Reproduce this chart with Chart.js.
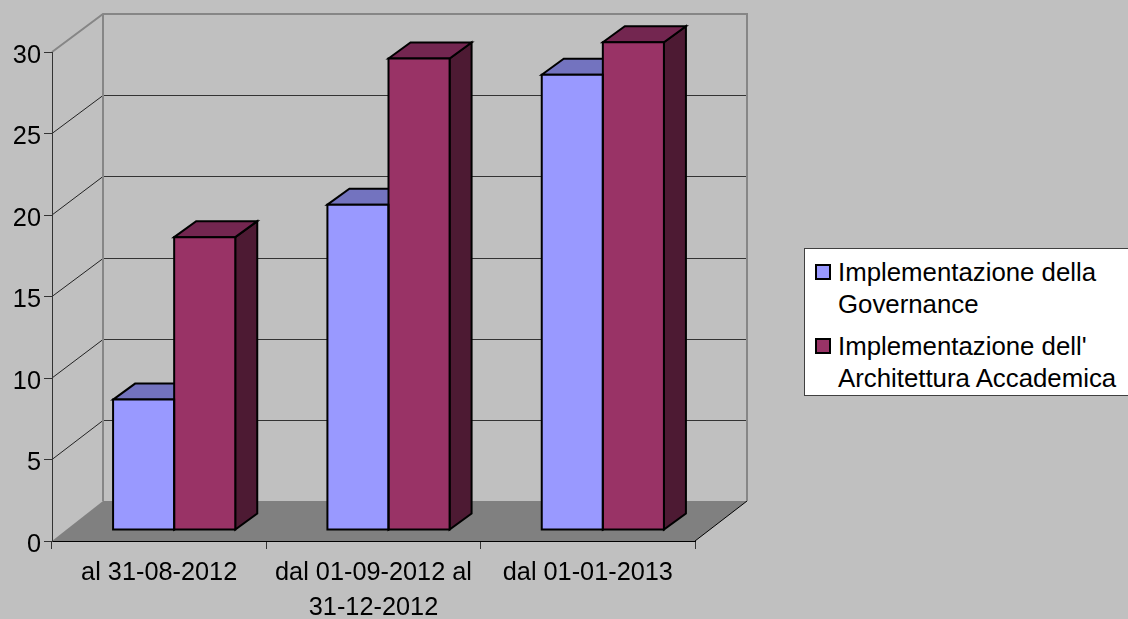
<!DOCTYPE html>
<html>
<head>
<meta charset="utf-8">
<title>Implementazione</title>
<script src="https://cdn.jsdelivr.net/npm/chart.js@4/dist/chart.umd.min.js"></script>
<style>
  html, body { margin: 0; padding: 0; background: #c0c0c0; overflow: hidden; }
  #wrap { position: relative; width: 1128px; height: 619px; }
  #grafico { display: block; }
  #leyenda {
    position: absolute; left: 804px; top: 248px; width: 330px; height: 146px;
    background: #fff; border: 1px solid #404040;
    font: 25.8px "Liberation Sans", Arial, sans-serif; color: #000;
  }
  .fila { position: absolute; left: 33px; line-height: 32px; white-space: nowrap; }
  .marca { position: absolute; left: 10px; width: 12px; height: 12px; border: 2px solid #000; }
</style>
</head>
<body>
<div id="wrap">
  <canvas id="grafico" width="1128" height="619"></canvas>
  <div id="leyenda"></div>
</div>
<script>
"use strict";

var categorias = ["al 31-08-2012", ["dal 01-09-2012 al", "31-12-2012"], "dal 01-01-2013"];
var governance = [8, 20, 28];
var architettura = [18, 29, 30];
var nomiSerie = [
  ["Implementazione della", "Governance"],
  ["Implementazione dell'", "Architettura Accademica"]
];
var coloriFronte = ["#9999ff", "#993366"];
var coloriTop = ["#7373bf", "#732650"];
var coloriLato = ["#4d4d80", "#4d1a33"];

// geometria della scatola 3d
var FONDO_DX = 51, FONDO_Y0 = 501, FONDO_ALTO = 487;
var BARRA_DX = 15, BARRA_PROF_X = 22, BARRA_PROF_Y = 16;

function tracciato(ctx, punti) {
  ctx.beginPath();
  punti.forEach(function (p, i) {
    if (i === 0) { ctx.moveTo(p[0], p[1]); } else { ctx.lineTo(p[0], p[1]); }
  });
}

function linea(ctx, punti, colore, spessore) {
  tracciato(ctx, punti);
  ctx.strokeStyle = colore;
  ctx.lineWidth = spessore;
  ctx.stroke();
}

function faccia(ctx, punti, colore) {
  tracciato(ctx, punti);
  ctx.closePath();
  if (colore) {
    ctx.fillStyle = colore;
    ctx.fill();
  }
  ctx.strokeStyle = "#000";
  ctx.lineWidth = 2;
  ctx.stroke();
}

var scatola3d = {
  id: "scatola3d",
  beforeDraw: function (chart) {
    var ctx = chart.ctx, a = chart.chartArea, y = chart.scales.y;
    var xb = a.left + FONDO_DX, xr = a.right + FONDO_DX + 1;
    var altezza = y.getPixelForValue(0) - y.getPixelForValue(30);
    function muro(v) {
      return FONDO_Y0 - (y.getPixelForValue(0) - y.getPixelForValue(v)) * FONDO_ALTO / altezza;
    }
    ctx.save();
    // pavimento
    tracciato(ctx, [[a.left, a.bottom], [xb, FONDO_Y0], [xr, FONDO_Y0], [a.right, a.bottom]]);
    ctx.closePath();
    ctx.fillStyle = "#808080";
    ctx.fill();
    linea(ctx, [[xr, FONDO_Y0], [a.right, a.bottom]], "#000", 1);
    // griglia
    [5, 10, 15, 20, 25].forEach(function (v) {
      var py = y.getPixelForValue(v), my = Math.round(muro(v)) + 0.5;
      linea(ctx, [[a.left, py], [xb, my]], "#222", 1);
      linea(ctx, [[xb, my], [xr, my]], "#333", 1);
    });
    // pareti
    var alto = Math.round(muro(30));
    linea(ctx, [[a.left, y.getPixelForValue(30)], [xb, alto], [xr, alto], [xr, FONDO_Y0]], "#868686", 2);
    linea(ctx, [[xb, alto], [xb, FONDO_Y0]], "#868686", 2);
    ctx.restore();
  },
  beforeDatasetsDraw: function (chart) {
    var ctx = chart.ctx;
    ctx.save();
    ctx.translate(BARRA_DX, 0);
    chart.data.datasets.forEach(function (ds, i) {
      chart.getDatasetMeta(i).data.forEach(function (el) {
        var l = el.x - el.width / 2, r = el.x + el.width / 2;
        var t = el.y, b = el.base;
        var dx = BARRA_PROF_X, dy = BARRA_PROF_Y;
        faccia(ctx, [[r, t], [r + dx, t - dy], [r + dx, b - dy], [r, b]], coloriLato[i]);
        faccia(ctx, [[l, t], [l + dx, t - dy], [r + dx, t - dy], [r, t]], coloriTop[i]);
      });
    });
  },
  afterDatasetsDraw: function (chart) {
    var ctx = chart.ctx;
    // contorno del fronte, centrato sul bordo della barra
    chart.data.datasets.forEach(function (ds, i) {
      chart.getDatasetMeta(i).data.forEach(function (el) {
        var l = el.x - el.width / 2, r = el.x + el.width / 2;
        faccia(ctx, [[l, el.y], [r, el.y], [r, el.base], [l, el.base]], null);
      });
    });
    ctx.restore();
  }
};

var carattere = { family: "'Liberation Sans', Arial, sans-serif", size: 25.3 };
var stileBarra = {
  yAxisID: "barre",
  categoryPercentage: 0.57,
  barPercentage: 1,
  borderWidth: 0,
  clip: false
};

new Chart(document.getElementById("grafico"), {
  type: "bar",
  data: {
    labels: categorias,
    datasets: [
      Object.assign({ label: nomiSerie[0].join(" "), data: governance, backgroundColor: coloriFronte[0] }, stileBarra),
      Object.assign({ label: nomiSerie[1].join(" "), data: architettura, backgroundColor: coloriFronte[1] }, stileBarra)
    ]
  },
  plugins: [scatola3d],
  options: {
    responsive: false,
    animation: false,
    layout: { padding: { top: 52, right: 433, left: 0, bottom: 0 } },
    plugins: { legend: { display: false }, tooltip: { enabled: false } },
    scales: {
      x: {
        grid: { drawOnChartArea: false, color: "#333", tickLength: 8 },
        border: { color: "#000", width: 1 },
        ticks: {
          color: "#000",
          font: { family: carattere.family, size: carattere.size, lineHeight: 1.38 },
          padding: 7,
          maxRotation: 0,
          autoSkip: false
        },
        afterFit: function (s) { s.height = 78; }
      },
      y: {
        min: 0,
        max: 30,
        grid: { drawOnChartArea: false, color: "#333", tickLength: 8 },
        border: { color: "#333", width: 1 },
        ticks: {
          color: "#000",
          // riga vuota: abbassa il numero di qualche pixel rispetto alla tacca
          font: { family: carattere.family, size: carattere.size, lineHeight: "8px" },
          stepSize: 5,
          padding: 3,
          callback: function (v) { return ["", String(v)]; }
        },
        afterFit: function (s) { s.width = 52; }
      },
      // scala delle barre: lo zero sta sul pavimento, sopra l'asse
      barre: { axis: "y", display: false, min: -0.708, max: 29.40 }
    }
  }
});

var leyenda = document.getElementById("leyenda");
var topFila = [15, 47, 89, 121];
nomiSerie.forEach(function (righe, i) {
  var marca = document.createElement("div");
  marca.className = "marca";
  marca.style.top = (i === 0 ? 15 : 89) + "px";
  marca.style.background = coloriFronte[i];
  leyenda.appendChild(marca);
  righe.forEach(function (testo, j) {
    var fila = document.createElement("div");
    fila.className = "fila";
    fila.style.top = topFila[i * 2 + j] - 8 + "px";
    fila.textContent = testo;
    leyenda.appendChild(fila);
  });
});
</script>
</body>
</html>
